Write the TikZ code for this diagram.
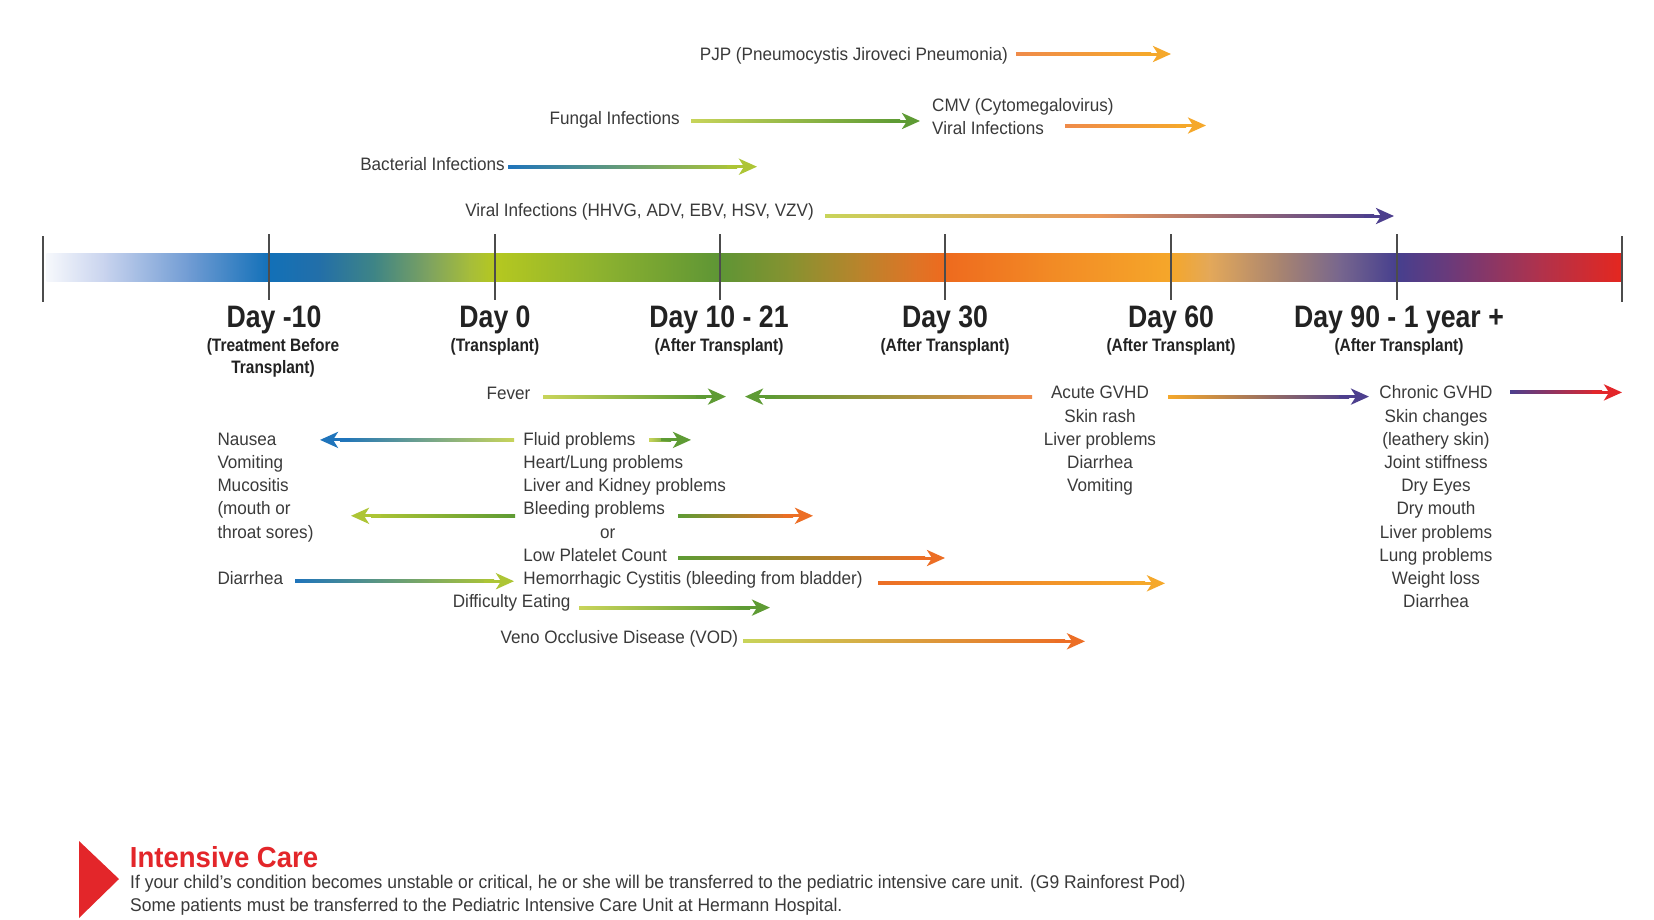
\documentclass[tikz,border=0pt]{standalone}
\usepackage{fontspec}
\setmainfont{Liberation Sans}[FakeStretch=0.95]
\newfontfamily\condfont{Liberation Sans}[FakeStretch=0.86]
\usetikzlibrary{arrows.meta,calc}

% palette
\definecolor{cBlue}{HTML}{1F74BB}
\definecolor{cLime}{HTML}{C8D45A}
\definecolor{cYG}{HTML}{ADC535}
\definecolor{cGreen}{HTML}{5E9B34}
\definecolor{cOrange}{HTML}{EC6E25}
\definecolor{cPeach}{HTML}{EF8B4A}
\definecolor{cGold}{HTML}{F5A82B}
\definecolor{cSalmon}{HTML}{E9965A}
\definecolor{cPurple}{HTML}{4D3F8E}
\definecolor{cRed}{HTML}{E3262A}
\definecolor{txt}{HTML}{3A3A3A}
\definecolor{dark}{HTML}{222222}

% colour stops of the timeline bar
\definecolor{s0}{HTML}{F6F8FC}
\definecolor{s1}{HTML}{C8D3EE}
\definecolor{s2}{HTML}{6F9BD3}
\definecolor{s3}{HTML}{1270B8}
\definecolor{s4}{HTML}{236FA8}
\definecolor{s5}{HTML}{3F8585}
\definecolor{s6}{HTML}{7FA35F}
\definecolor{s7}{HTML}{A6BD3A}
\definecolor{s8}{HTML}{B5C820}
\definecolor{s9}{HTML}{8DB22F}
\definecolor{s10}{HTML}{5E9535}
\definecolor{s11}{HTML}{879230}
\definecolor{s12}{HTML}{B9842C}
\definecolor{s13}{HTML}{DE7426}
\definecolor{s14}{HTML}{EE6A1E}
\definecolor{s15}{HTML}{F28A25}
\definecolor{s16}{HTML}{F5A72A}
\definecolor{s17}{HTML}{E3A85A}
\definecolor{s18}{HTML}{A88470}
\definecolor{s19}{HTML}{77668E}
\definecolor{s20}{HTML}{463F8E}
\definecolor{s21}{HTML}{6B3A7A}
\definecolor{s22}{HTML}{B0324C}
\definecolor{s23}{HTML}{E5271F}

\tikzset{
  body/.style={font=\fontsize{18}{22}\selectfont, text=txt, inner sep=0pt},
  note/.style={font=\fontsize{18.4}{22}\selectfont, text=txt, inner sep=0pt},
  daytitle/.style={font=\condfont\bfseries\fontsize{31}{36}\selectfont, text=dark, inner sep=0pt},
  daysub/.style={font=\condfont\bfseries\fontsize{18}{22}\selectfont, text=dark, inner sep=0pt},
  tickline/.style={draw=black!70, line width=1.2pt},
  tiphead/.style={-{Stealth[length=18pt,width=16pt,inset=5pt]}, line width=3pt},
}

% gradient arrow pointing right: tail, head, tail colour, head colour
\newcommand\arrR[4]{%
  \shade[left color=#3, right color=#4] ($(#1)+(0,-1.5)$) rectangle ($(#2)+(-20,1.5)$);
  \draw[tiphead, draw=#4] ($(#2)+(-30,0)$) -- (#2);}
% three-colour gradient arrow pointing right
\newcommand\arrRR[5]{%
  \shade[left color=#3, right color=#5, middle color=#4] ($(#1)+(0,-1.5)$) rectangle ($(#2)+(-20,1.5)$);
  \draw[tiphead, draw=#5] ($(#2)+(-30,0)$) -- (#2);}
% gradient arrow pointing left: tail (right end), head (left end), tail colour, head colour
\newcommand\arrL[4]{%
  \shade[left color=#4, right color=#3] ($(#2)+(20,-1.5)$) rectangle ($(#1)+(0,1.5)$);
  \draw[tiphead, draw=#4] ($(#2)+(30,0)$) -- (#2);}

\begin{document}
\begin{tikzpicture}[x=1pt, y=-1pt]
\useasboundingbox[fill=white] (0,0) rectangle (1654,919);

% ---------- timeline bar ----------
\foreach \x/\c [remember=\x as \px (initially 47), remember=\c as \pc (initially s0)] in
  {105/s1,190/s2,269/s3,320/s4,375/s5,430/s6,470/s7,495/s8,600/s9,720/s10,790/s11,
   860/s12,915/s13,945/s14,1050/s15,1171/s16,1210/s17,1280/s18,1340/s19,1397/s20,
   1450/s21,1540/s22,1622/s23}
  \shade[left color=\pc, right color=\c] (\px-0.4,253) rectangle (\x+0.4,281);

\foreach \x in {269,495,720,945,1171,1397} \draw[tickline] (\x,234) -- (\x,300);
\draw[tickline] (43,236) -- (43,302);
\draw[tickline] (1622,236) -- (1622,302);

% ---------- milestones ----------
\node[daytitle, anchor=base] (d1) at (274,327.5) {Day -10};
\node[daysub, anchor=base] (d1a) at (273,351.5) {(Treatment Before};
\node[daysub, anchor=base] (d1b) at (273,373.5) {Transplant)};
\node[daytitle, anchor=base] (d2) at (495,327.5) {Day 0};
\node[daysub, anchor=base] (d2a) at (495,351.5) {(Transplant)};
\node[daytitle, anchor=base] (d3) at (719,327.5) {Day 10 - 21};
\node[daysub, anchor=base] (d3a) at (719,351.5) {(After Transplant)};
\node[daytitle, anchor=base] (d4) at (945,327.5) {Day 30};
\node[daysub, anchor=base] (d4a) at (945,351.5) {(After Transplant)};
\node[daytitle, anchor=base] (d5) at (1171,327.5) {Day 60};
\node[daysub, anchor=base] (d5a) at (1171,351.5) {(After Transplant)};
\node[daytitle, anchor=base] (d6) at (1399,327.5) {Day 90 - 1 year +};
\node[daysub, anchor=base] (d6a) at (1399,351.5) {(After Transplant)};

% ---------- infections above the bar ----------
\node[body, anchor=base east] (pjp) at (1008,60.3) {PJP (Pneumocystis Jiroveci Pneumonia)};
\coordinate (pjpT) at (1016,54); \coordinate (pjpH) at (1171,54);
\arrR{pjpT}{pjpH}{cPeach}{cGold}

\node[body, anchor=base east] (fungal) at (680,124.5) {Fungal Infections};
\coordinate (fungT) at (691,121); \coordinate (fungH) at (920,121);
\arrR{fungT}{fungH}{cLime}{cGreen}

\node[body, anchor=base west] (cmv1) at (932,111) {CMV (Cytomegalovirus)};
\node[body, anchor=base west] (cmv2) at (932,134) {Viral Infections};
\coordinate (cmvT) at (1065,125.5); \coordinate (cmvH) at (1206,125.5);
\arrR{cmvT}{cmvH}{cPeach}{cGold}

\node[body, anchor=base east] (bact) at (505,170) {Bacterial Infections};
\coordinate (bactT) at (508,166.7); \coordinate (bactH) at (757,166.7);
\arrR{bactT}{bactH}{cBlue}{cYG}

\node[body, anchor=base east] (viral) at (814,216.5) {Viral Infections (HHVG, ADV, EBV, HSV, VZV)};
\coordinate (virT) at (825,216); \coordinate (virH) at (1394,216);
\arrRR{virT}{virH}{cLime}{cSalmon}{cPurple}

% ---------- complications below the bar ----------
\node[body, anchor=base east] (fever) at (530.6,399.9) {Fever};
\coordinate (fevT) at (543,396.6); \coordinate (fevH) at (726,396.6);
\arrR{fevT}{fevH}{cLime}{cGreen}
\coordinate (backT) at (1032,396.6); \coordinate (backH) at (745,396.6);
\arrL{backT}{backH}{cPeach}{cGreen}

\foreach \t [count=\i] in {{Acute GVHD},{Skin rash},{Liver problems},{Diarrhea},{Vomiting}}
  \node[body, anchor=base] (acute\i) at (1100,{398.9+23.2*(\i-1)}) {\t};
\coordinate (acT) at (1168,396.6); \coordinate (acH) at (1369,396.6);
\arrR{acT}{acH}{cGold}{cPurple}

\foreach \t [count=\i] in {{Chronic GVHD},{Skin changes},{(leathery skin)},{Joint stiffness},{Dry Eyes},
    {Dry mouth},{Liver problems},{Lung problems},{Weight loss},{Diarrhea}}
  \node[body, anchor=base] (chronic\i) at (1436,{398.9+23.2*(\i-1)}) {\t};
\coordinate (chT) at (1510,392.4); \coordinate (chH) at (1622,392.4);
\arrR{chT}{chH}{cPurple}{cRed}

\foreach \t [count=\i] in {{Nausea},{Vomiting},{Mucositis},{(mouth or},{throat sores)}}
  \node[body, anchor=base west] (early\i) at (217.3,{445.3+23.2*(\i-1)}) {\t};

\node[body, anchor=base west] (mid1) at (523.2,445.3) {Fluid problems};
\node[body, anchor=base west] (mid2) at (523.2,468.5) {Heart/Lung problems};
\node[body, anchor=base west] (mid3) at (523.2,491.7) {Liver and Kidney problems};
\node[body, anchor=base west] (mid4) at (523.2,514.9) {Bleeding problems};
\node[body, anchor=base] (mid5) at (607.6,538.1) {or};
\node[body, anchor=base west] (mid6) at (523.2,561.3) {Low Platelet Count};
\node[body, anchor=base west] (mid7) at (523.2,584.5) {Hemorrhagic Cystitis (bleeding from bladder)};

\coordinate (nauT) at (514,439.9); \coordinate (nauH) at (320,439.9);
\arrL{nauT}{nauH}{cLime}{cBlue}
\coordinate (fluT) at (649,439.9); \coordinate (fluH) at (691,439.9);
\arrR{fluT}{fluH}{cLime}{cGreen}
\coordinate (mucT) at (515,515.8); \coordinate (mucH) at (351,515.8);
\arrL{mucT}{mucH}{cGreen}{cYG}
\coordinate (bleT) at (678,515.8); \coordinate (bleH) at (813,515.8);
\arrR{bleT}{bleH}{cGreen}{cOrange}
\coordinate (plaT) at (678,558); \coordinate (plaH) at (945,558);
\arrR{plaT}{plaH}{cGreen}{cOrange}

\node[body, anchor=base west] (diar) at (217.3,584.5) {Diarrhea};
\coordinate (diaT) at (295,581.2); \coordinate (diaH) at (514,581.2);
\arrR{diaT}{diaH}{cBlue}{cYG}
\coordinate (hemT) at (878,583.3); \coordinate (hemH) at (1165,583.3);
\arrR{hemT}{hemH}{cOrange}{cGold}

\node[body, anchor=base east] (eat) at (570.6,607.7) {Difficulty Eating};
\coordinate (eatT) at (579,607.6); \coordinate (eatH) at (770,607.6);
\arrR{eatT}{eatH}{cLime}{cGreen}

\node[body, anchor=base east] (vod) at (738.4,643.5) {Veno Occlusive Disease (VOD)};
\coordinate (vodT) at (743,641.3); \coordinate (vodH) at (1085,641.3);
\arrR{vodT}{vodH}{cLime}{cOrange}

% ---------- intensive care note ----------
\fill[cRed] (79,841) -- (119,879) -- (79,918) -- cycle;
\node[anchor=base west, inner sep=0pt, text=cRed, font=\bfseries\fontsize{29}{34}\selectfont]
  (icu) at (129.7,867) {Intensive Care};
\node[note, anchor=base west] (icu1) at (130,888.3)
  {If your child’s condition becomes unstable or critical, he or she will be transferred to the pediatric intensive care unit. (G9 Rainforest Pod)};
\node[note, anchor=base west] (icu2) at (130,911.5)
  {Some patients must be transferred to the Pediatric Intensive Care Unit at Hermann Hospital.};
\end{tikzpicture}
\end{document}
